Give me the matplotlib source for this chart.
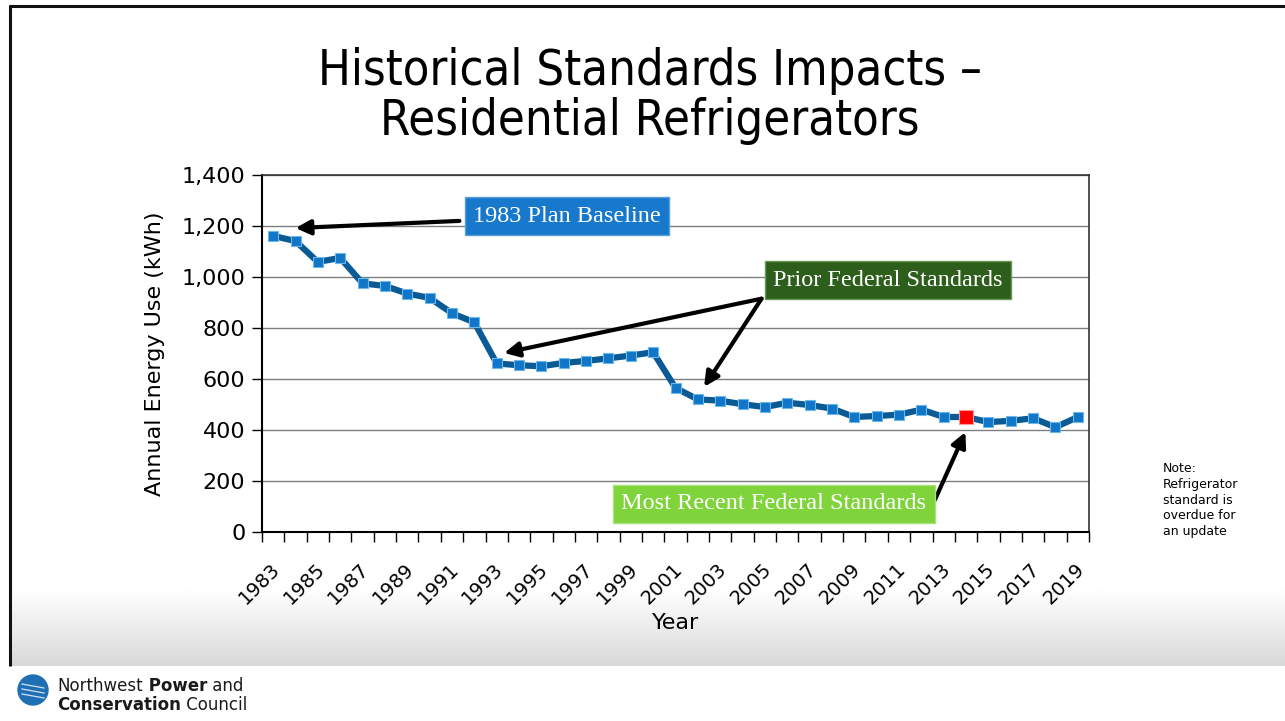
import numpy as np
import matplotlib
matplotlib.use('Agg')
import matplotlib.pyplot as plt
import matplotlib.transforms as mtransforms
from matplotlib.patches import Circle

# ---- data ----
years = list(range(1983, 2020))
kwh = [1161, 1141, 1059, 1075, 975, 965, 935, 918, 858, 822,
       661, 654, 650, 663, 671, 681, 692, 705, 565, 520,
       515, 501, 490, 507, 498, 484, 451, 455, 460, 480,
       451, 451, 431, 436, 446, 411, 451]
highlight_year = 2014
y_ticks = [0, 200, 400, 600, 800, 1000, 1200, 1400]

W, H = 1285, 721
fig = plt.figure(figsize=(W / 100, H / 100), dpi=100)

# ---- slide background: frame, grey band, logo ----
bg = fig.add_axes([0, 0, 1, 1], zorder=-5)
bg.set_xlim(0, W)
bg.set_ylim(H, 0)
bg.axis('off')
grad = np.linspace(1.0, 0.85, 100).reshape(-1, 1)
bg.imshow(grad, cmap='gray', vmin=0, vmax=1, aspect='auto',
          extent=[10, W, 666, 588], interpolation='bilinear')
bg.plot([9, W], [5.5, 5.5], color='#111111', lw=2.2, solid_capstyle='butt')
bg.plot([9.5, 9.5], [5, 666], color='#111111', lw=2.2, solid_capstyle='butt')
bg.add_patch(Circle((33, 690), 15, color='#1f6fb5'))
for yy in [684, 689, 694]:
    bg.plot([22, 44], [yy, yy + 4], color='white', lw=0.9, alpha=0.8)

# logo text, pieces chained so bold words sit right after the plain ones
def chain(parts, x0, y0):
    prev = None
    for s, bold in parts:
        kw = dict(fontsize=12, color='#1a1a1a', fontweight='bold' if bold else 'normal')
        if prev is None:
            prev = bg.text(x0, y0, s, va='baseline', **kw)
        else:
            prev = bg.annotate(s, xy=(1, 0), xycoords=prev, va='bottom', ha='left', **kw)

chain([('Northwest', False), (' Power', True), (' and', False)], 57, 691)
chain([('Conservation', True), (' Council', False)], 57, 710)

fig.text(0.506, 1 - 96 / H, 'Historical Standards Impacts \u2013\nResidential Refrigerators',
         ha='center', va='center', fontsize=35, linespacing=1.05,
         fontstretch='condensed', color='black')

fig.text(1163 / W, 1 - 500 / H,
         'Note:\nRefrigerator\nstandard is\noverdue for\nan update',
         ha='left', va='center', fontsize=9, linespacing=1.25, color='black')

# ---- main chart ----
ax = fig.add_axes([262 / W, 1 - 532 / H, (1089 - 262) / W, (532 - 175) / H])
x = np.arange(len(years))
ax.plot(x, kwh, color='#0a5a96', lw=4.5, marker='s', markersize=7,
        markerfacecolor='#1176c8', markeredgecolor='#6ab8ea', markeredgewidth=0.8,
        zorder=3)
hi = years.index(highlight_year)
ax.plot(x[hi], kwh[hi], marker='s', markersize=10, color='#ff0000',
        markeredgecolor='#ff9a9a', markeredgewidth=0.8, zorder=4)

ax.set_xlim(-0.5, len(years) - 0.5)
ax.set_ylim(0, 1400)
ax.set_yticks(y_ticks)
ax.set_yticklabels([f'{v:,}' for v in y_ticks], fontsize=16)
ax.yaxis.grid(True, color='#7f7f7f', lw=1)
ax.set_axisbelow(True)

ax.set_xticks(x[::2])
ax.set_xticklabels([str(y) for y in years[::2]], rotation=45, ha='right',
                   va='top', rotation_mode='anchor', fontsize=14)
ax.set_xticks(np.arange(len(years) + 1) - 0.5, minor=True)
ax.tick_params(axis='x', which='major', length=0, pad=11)
ax.tick_params(axis='x', which='minor', length=7, width=1, color='black')
ax.tick_params(axis='y', length=7, width=1, pad=5)

# nudge year labels down/left a little
shift = mtransforms.ScaledTranslation(-3 / 100, -12 / 100, fig.dpi_scale_trans)
for lab in ax.get_xticklabels():
    lab.set_transform(lab.get_transform() + shift)

for side in ['left', 'bottom']:
    ax.spines[side].set_color('black')
    ax.spines[side].set_linewidth(1.5)
for side in ['top', 'right']:
    ax.spines[side].set_color('#333333')
    ax.spines[side].set_linewidth(1.2)

ax.set_ylabel('Annual Energy Use (kWh)', fontsize=16, labelpad=12)
ax.set_xlabel('Year', fontsize=16, labelpad=4)

# ---- callouts ----
serif = 'Liberation Serif'
arrow = dict(arrowstyle='-|>', lw=3, color='black', mutation_scale=22,
             shrinkA=0, shrinkB=0)

ax.text(13.15, 1239, '1983 Plan Baseline', fontsize=17.5, family=serif,
        color='white', ha='center', va='center', zorder=6,
        bbox=dict(boxstyle='square,pad=0.35', fc='#1878cc', ec='#5aa0dc', lw=1))
ax.annotate('', xy=(1.0, 1192), xytext=(8.33, 1220), arrowprops=arrow, zorder=5)

ax.text(27.5, 988, 'Prior Federal Standards', fontsize=17.5, family=serif,
        color='white', ha='center', va='center', zorder=6,
        bbox=dict(boxstyle='square,pad=0.35', fc='#2d5e1b', ec='#6a9a55', lw=1))
ax.annotate('', xy=(10.33, 702), xytext=(21.85, 915), arrowprops=arrow, zorder=5)
ax.annotate('', xy=(19.28, 569), xytext=(21.85, 915), arrowprops=arrow, zorder=5)

ax.text(22.4, 110, 'Most Recent Federal Standards', fontsize=17.5, family=serif,
        color='white', ha='center', va='center', zorder=6,
        bbox=dict(boxstyle='square,pad=0.35', fc='#7fd43c', ec='#a8e27a', lw=1))
ax.annotate('', xy=(30.97, 392), xytext=(29.6, 125), arrowprops=arrow, zorder=5)

fig.savefig('out.png', dpi=100)
